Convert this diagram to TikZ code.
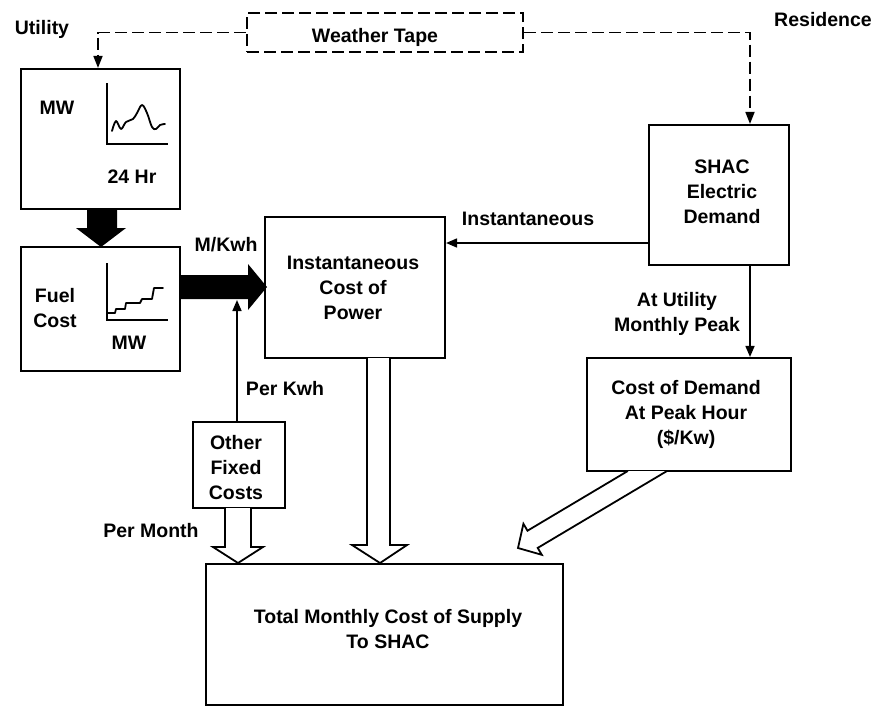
\documentclass[tikz,border=0pt]{standalone}
\usepackage{fontspec}
\setmainfont{Liberation Sans}
\usetikzlibrary{arrows.meta}
\begin{document}
\begin{tikzpicture}[x=1pt,y=-1pt,
  box/.style={draw, line width=2.1pt, inner sep=0pt},
  txt/.style={font=\bfseries\fontsize{19.5}{25}\selectfont, align=center, inner sep=0pt},
  one/.style={text height=14pt, text depth=0pt},
  thinarrow/.style={line width=1.6pt, -{Triangle[length=11pt,width=9pt]}},
  dashline/.style={line width=1.7pt, dash pattern=on 12pt off 5pt, -{Triangle[length=12pt,width=9pt]}},
  hollow/.style={draw, line width=1.8pt, fill=white, line join=miter},
  curve/.style={line width=1.8pt, line join=round, line cap=round}]
\useasboundingbox (0,0) rectangle (874,707);

% boxes
\node[box, minimum width=159, minimum height=140] (mw) at (100.5,139) {};
\node[box, minimum width=159, minimum height=124] (fuel) at (100.5,309) {};
\node[box, dash pattern=on 12pt off 5pt, minimum width=276, minimum height=39] (weather) at (385,32.5) {};
\node[box, minimum width=180, minimum height=141] (inst) at (355,287.5) {};
\node[box, minimum width=140, minimum height=140] (shac) at (719,195) {};
\node[box, minimum width=204, minimum height=113] (cost) at (689,414.5) {};
\node[box, minimum width=92, minimum height=86] (other) at (239,465) {};
\node[box, minimum width=357, minimum height=141] (total) at (384.5,634.5) {};

% texts
\node[txt, one] (utilityT) at (42,27) {Utility};
\node[txt, one] (resT) at (823,19) {Residence};
\node[txt, one] (weatherT) at (375,35) {Weather Tape};
\node[txt, one] (mwT) at (57,107) {MW};
\node[txt, one] (hrT) at (132,176) {24 Hr};
\node[txt] (fuelT) at (55,308.5) {Fuel\\Cost};
\node[txt, one] (mw2T) at (129,342) {MW};
\node[txt, one] (mkwhT) at (226,244) {M/Kwh};
\node[txt] (instT) at (353,287.5) {Instantaneous\\Cost of\\Power};
\node[txt, one] (instLbl) at (528,218) {Instantaneous};
\node[txt] (shacT) at (722,192) {SHAC\\Electric\\Demand};
\node[txt] (peakT) at (677,313.5) {At Utility\\Monthly Peak};
\node[txt] (costT) at (686,414.5) {Cost of Demand\\At Peak Hour\\(\$/Kw)};
\node[txt, one] (perKwh) at (285,388) {Per Kwh};
\node[txt] (otherT) at (236,468) {Other\\Fixed\\Costs};
\node[txt, one] (perMonth) at (151,530) {Per Month};
\node[txt] (totalT) at (388,629) {Total Monthly Cost of Supply\\To SHAC};

% graphs
\draw[line width=1.6pt] (107,83) -- (107,144) -- (168,144);
\draw[curve] plot[smooth, tension=0.6] coordinates {(112,131) (116,121) (121,129) (126,122) (133,119) (137,113) (142,105) (147,113) (152,127) (156,129) (160,125) (165,124)};
\draw[line width=1.6pt] (107,263) -- (107,320) -- (168,320);
\draw[curve] (108,313) -- (115,313) -- (116,309) -- (125,309) -- (126,303) -- (140,303) -- (142,299) -- (152,299) -- (154,288) -- (163,288);

% dashed connectors
\draw[dashline] (weather.west) -| (98,0 |- mw.north);
\draw[dashline] (weather.east) -| (750,0 |- shac.north);

% thin connectors
\draw[thinarrow] (shac.west |- 0,243) -- (inst.east |- 0,243);
\draw[thinarrow] (shac.south -| 750,0) -- (cost.north -| 750,0);
\coordinate (fa) at (237,300);
\draw[thinarrow] (other.north -| fa) -- (fa);

% black arrows
\fill (87,209) -- (117,209) -- (117,228) -- (126,228) -- (101,247) -- (76,228) -- (87,228) -- cycle;
\fill (180,275) -- (248,275) -- (248,264) -- (267,287) -- (248,310) -- (248,299) -- (180,299) -- cycle;

% hollow arrows
\draw[hollow] (225,508) -- (225,547) -- (213,547) -- (238,563) -- (263,547) -- (251,547) -- (251,508);
\draw[hollow] (367,358) -- (367,545) -- (352,545) -- (380,563) -- (407,545) -- (390,545) -- (390,358);
\draw[hollow] (627.8,471) -- (527.5,530.7) -- (523.4,523.8) -- (518,548) -- (541.8,554.8) -- (537.7,547.9) -- (667,471);
\end{tikzpicture}
\end{document}
